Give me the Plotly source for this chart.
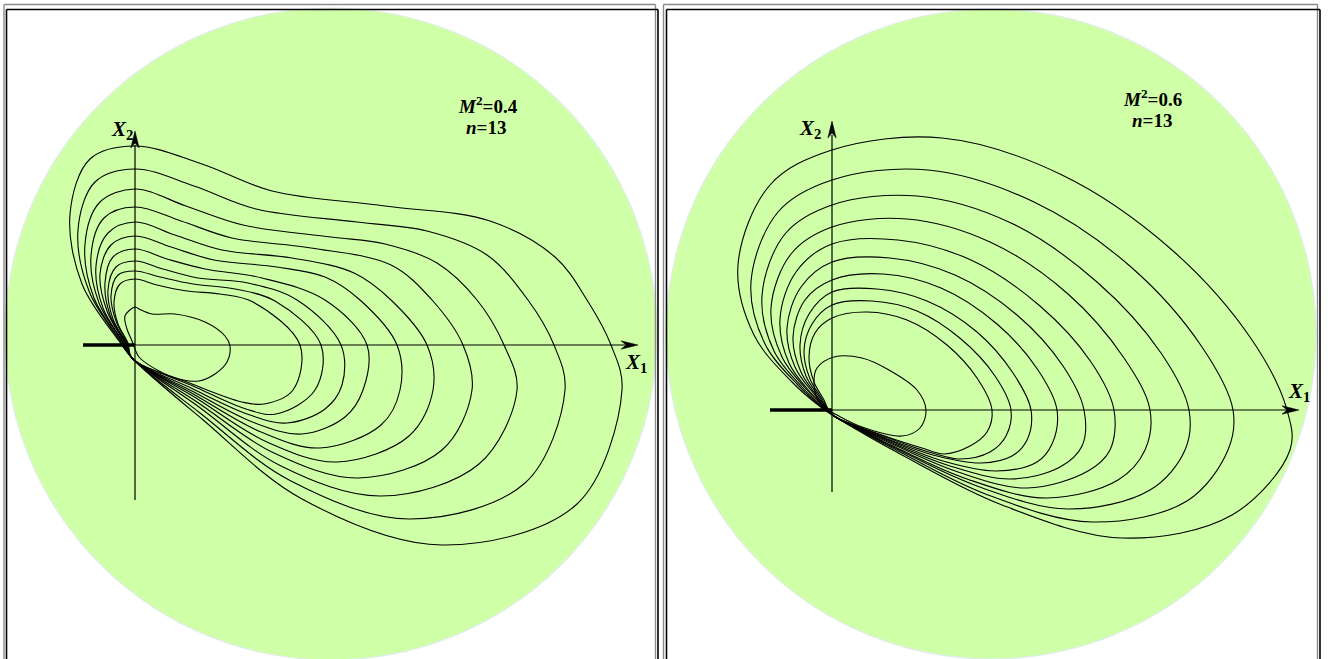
import plotly.graph_objects as go

W, H = 1328, 659

# ---------------- data (X1, X2, one list per curve) -------------
m2_values = [0.4, 0.6]
n_values = [13, 13]

left_x1 = [
    [-3, 67, 167, 307, 442, 487, 476, 452, 420, 355, 250, 137, 67, 0, -45, -65, -53, -16, -3],
    [-3, 65, 156, 274, 390, 430, 419, 393, 352, 292, 222, 121, 59, 0, -40, -57, -46, -15, -3],
    [-3, 64, 146, 246, 344, 382, 369, 342, 302, 250, 196, 108, 51, 0, -35, -50, -41, -14, -3],
    [-3, 62, 139, 223, 307, 337, 328, 297, 256, 176, 97, 46, 0, -31, -44, -36, -13, -3],
    [-3, 61, 132, 202, 274, 298, 292, 256, 219, 157, 87, 40, 0, -27, -39, -32, -12, -3],
    [-3, 60, 126, 185, 246, 265, 262, 225, 190, 142, 79, 36, 0, -24, -35, -28, -11, -3],
    [-3, 59, 120, 167, 210, 228, 232, 190, 127, 70, 32, 0, -22, -30, -25, -10, -3],
    [-3, 58, 115, 152, 190, 207, 206, 162, 113, 63, 28, 0, -19, -27, -22, -9, -3],
    [-3, 58, 111, 141, 180, 186, 140, 100, 58, 25, 0, -17, -24, -19, -8, -3],
    [-3, 57, 107, 129, 158, 165, 118, 85, 52, 22, 0, -15, -21, -17, -7, -3],
    [4, 24, 44, 64, 80, 92, 95, 90, 70, 40, 17, 4, 0, -10, -8, -3, 0, 4],
]
left_x2 = [
    [-13, -74, -154, -200, -159, -45, 0, 45, 88, 124, 139, 154, 181, 199, 186, 131, 61, 4, -13],
    [-13, -68, -136, -174, -138, -45, 0, 45, 90, 114, 123, 136, 159, 176, 163, 115, 54, 4, -13],
    [-13, -62, -121, -151, -119, -45, 0, 45, 82, 101, 108, 120, 139, 156, 143, 101, 47, 4, -13],
    [-13, -57, -108, -133, -105, -45, 0, 45, 80, 97, 107, 124, 138, 127, 89, 42, 4, -13],
    [-13, -53, -97, -117, -91, -45, 0, 45, 72, 87, 95, 110, 123, 112, 79, 37, 3, -13],
    [-13, -50, -87, -103, -80, -45, 0, 45, 68, 78, 85, 98, 109, 100, 71, 34, 3, -13],
    [-13, -47, -78, -89, -72, -45, 0, 45, 67, 76, 86, 96, 88, 62, 30, 3, -13],
    [-13, -44, -70, -78, -64, -40, 0, 45, 62, 67, 76, 84, 78, 55, 26, 2, -13],
    [-13, -41, -64, -69, -45, 0, 44, 56, 61, 68, 74, 70, 49, 24, 2, -13],
    [-13, -39, -57, -59, -45, 0, 43, 51, 54, 60, 66, 61, 43, 21, 2, -13],
    [-12, -26, -34, -36, -29, -17, -1, 9, 23, 31, 31, 36, 38, 29, 16, 4, -4, -12],
]

right_x1 = [
    [2, 70, 170, 290, 400, 458, 455, 420, 340, 230, 110, 0, -62, -94, -78, -40, -10, 2],
    [2, 66, 156, 260, 355, 396, 401, 370, 299, 202, 96, 0, -54, -81, -67, -34, -9, 2],
    [2, 63, 145, 236, 318, 353, 357, 329, 265, 179, 85, 0, -47, -70, -58, -29, -8, 2],
    [2, 61, 135, 215, 286, 313, 318, 292, 236, 158, 75, 0, -41, -61, -50, -25, -7, 2],
    [2, 58, 126, 195, 256, 278, 282, 259, 208, 139, 66, 0, -36, -52, -43, -21, -6, 2],
    [2, 56, 118, 179, 228, 250, 252, 231, 185, 123, 58, 0, -31, -45, -37, -18, -6, 2],
    [2, 54, 111, 164, 205, 220, 225, 206, 165, 109, 51, 0, -27, -39, -31, -15, -5, 2],
    [2, 53, 105, 149, 180, 195, 199, 181, 145, 95, 45, 0, -23, -32, -26, -12, -5, 2],
    [2, 51, 100, 128, 158, 174, 179, 163, 129, 85, 40, 0, -20, -28, -22, -10, -4, 2],
    [2, 50, 90, 112, 138, 155, 160, 145, 115, 75, 35, 0, -17, -23, -18, -8, -4, 2],
    [5, 30, 70, 88, 94, 85, 57, 30, 2, -15, -18, -15, -7, 5],
]
right_x2 = [
    [-6, -45, -95, -128, -105, -40, 0, 70, 160, 235, 272, 260, 225, 145, 75, 28, 2, -6],
    [-6, -41, -85, -112, -91, -40, 0, 63, 143, 208, 240, 230, 198, 128, 66, 25, 2, -6],
    [-6, -38, -76, -99, -80, -40, 0, 57, 128, 187, 214, 205, 176, 114, 59, 22, 2, -6],
    [-6, -36, -69, -88, -70, -40, 0, 52, 116, 168, 191, 183, 156, 102, 53, 20, 2, -6],
    [-6, -33, -62, -78, -61, -40, 0, 48, 104, 150, 170, 166, 138, 91, 47, 17, 2, -6],
    [-6, -31, -56, -69, -57, -36, 0, 44, 95, 135, 152, 148, 123, 82, 43, 16, 2, -6],
    [-6, -29, -51, -61, -52, -34, 0, 40, 86, 122, 136, 130, 110, 73, 38, 14, 2, -6],
    [-6, -28, -46, -53, -46, -30, 0, 37, 78, 109, 121, 118, 96, 65, 34, 12, 1, -6],
    [-6, -26, -43, -49, -42, -26, 0, 34, 71, 99, 109, 105, 86, 59, 31, 11, 1, -6],
    [-6, -25, -38, -44, -36, -22, 0, 32, 65, 90, 98, 92, 77, 53, 28, 10, 1, -6],
    [-5, -17, -26, -18, 0, 20, 40, 52, 53, 42, 30, 12, 2, -5],
]

# ---------------- figure ----------------
fig = go.Figure()

for xs, ys in zip(left_x1, left_x2):
    fig.add_trace(go.Scatter(x=xs, y=ys, mode="lines", xaxis="x", yaxis="y",
                             line=dict(color="black", width=1.1, shape="spline", smoothing=1.0),
                             hoverinfo="skip", showlegend=False))
for xs, ys in zip(right_x1, right_x2):
    fig.add_trace(go.Scatter(x=xs, y=ys, mode="lines", xaxis="x2", yaxis="y2",
                             line=dict(color="black", width=1.1, shape="spline", smoothing=1.0),
                             hoverinfo="skip", showlegend=False))

GREEN = "#cfffa6"
shapes = []
# disks
shapes.append(dict(type="circle", xref="x", yref="y", x0=-130, x1=522, y0=-315, y1=337,
                   fillcolor=GREEN, line=dict(color="#e3ecec", width=1.2), layer="below"))
shapes.append(dict(type="circle", xref="x2", yref="y2", x0=-166, x1=484, y0=-249, y1=401,
                   fillcolor=GREEN, line=dict(color="#e3ecec", width=1.2), layer="below"))

def hline(xr, yr, x0, x1, y, w):
    return dict(type="line", xref=xr, yref=yr, x0=x0, x1=x1, y0=y, y1=y,
                line=dict(color="black", width=w), layer="above")

def vline(xr, yr, x, y0, y1, w):
    return dict(type="line", xref=xr, yref=yr, x0=x, x1=x, y0=y0, y1=y1,
                line=dict(color="black", width=w), layer="above")

def arrow_path(xr, yr, tx, ty, direction):
    L, Wd, notch = 17, 4.2, 12
    if direction == "right":
        p = f"M{tx},{ty} L{tx-L},{ty+Wd} L{tx-notch},{ty} L{tx-L},{ty-Wd} Z"
    else:
        p = f"M{tx},{ty} L{tx-Wd},{ty-L} L{tx},{ty-notch} L{tx+Wd},{ty-L} Z"
    return dict(type="path", xref=xr, yref=yr, path=p, fillcolor="black",
                line=dict(color="black", width=0.5), layer="above")

# left axes
shapes.append(hline("x", "y", -52, 490, 0, 1.2))
shapes.append(hline("x", "y", -52, 0, 0, 3.6))
shapes.append(vline("x", "y", 0, -155, 200, 1.2))
shapes.append(arrow_path("x", "y", 503, 0, "right"))
shapes.append(arrow_path("x", "y", 0, 214, "up"))
# right axes
shapes.append(hline("x2", "y2", -62, 455, 0, 1.2))
shapes.append(hline("x2", "y2", -62, 0, 0, 3.6))
shapes.append(vline("x2", "y2", 0, -82, 275, 1.2))
shapes.append(arrow_path("x2", "y2", 467, 0, "right"))
shapes.append(arrow_path("x2", "y2", 0, 289, "up"))

# panel frames (paper coords from pixels)
def px(x):
    return x / W

def py(y):
    return 1 - y / H

def frame(x0, x1, ytop, color, w):
    out = []
    for seg in [(x0, ytop, x1, ytop), (x0, ytop, x0, H + 5), (x1, ytop, x1, H + 5)]:
        out.append(dict(type="line", xref="paper", yref="paper",
                        x0=px(seg[0]), y0=py(seg[1]), x1=px(seg[2]), y1=py(seg[3]),
                        line=dict(color=color, width=w), layer="above"))
    return out

shapes += frame(4, 655.5, 4.5, "#8a8a8a", 1.4)
shapes += frame(6.5, 658, 9.5, "black", 1.6)
shapes += frame(663.5, 1317.5, 4.5, "#8a8a8a", 1.4)
shapes += frame(666.5, 1320, 9.5, "black", 1.6)

FONT = "Liberation Serif"
ann = []
def label(xr, yr, x, y, text, size):
    ann.append(dict(xref=xr, yref=yr, x=x, y=y, text=text, showarrow=False,
                    font=dict(family=FONT, size=size, color="black"),
                    xanchor="center", yanchor="middle"))

xlab1 = "<b><i>X</i></b><sub><b>1</b></sub>"
xlab2 = "<b><i>X</i></b><sub><b>2</b></sub>"
label("x", "y", -13, 215, xlab2, 21)
label("x", "y", 501, -18, xlab1, 21)
label("x2", "y2", -22, 281, xlab2, 21)
label("x2", "y2", 467, 18, xlab1, 21)

label("x", "y", 353, 240, f"<b><i>M</i><sup>2</sup>={m2_values[0]}</b>", 19)
label("x", "y", 351, 218, f"<b><i>n</i>={n_values[0]}</b>", 19)
label("x2", "y2", 320, 312, f"<b><i>M</i><sup>2</sup>={m2_values[1]}</b>", 19)
label("x2", "y2", 320, 290, f"<b><i>n</i>={n_values[1]}</b>", 19)

ax_common = dict(visible=False, fixedrange=True, showgrid=False, zeroline=False)
fig.update_layout(
    width=W, height=H, autosize=False,
    margin=dict(l=0, r=0, t=0, b=0, pad=0),
    paper_bgcolor="white", plot_bgcolor="white",
    xaxis=dict(domain=[0, 0.5], range=[-135, 529], anchor="y", **ax_common),
    yaxis=dict(domain=[0, 1], range=[-314, 345], anchor="x", **ax_common),
    xaxis2=dict(domain=[0.5, 1], range=[-168, 496], anchor="y2", **ax_common),
    yaxis2=dict(domain=[0, 1], range=[-249, 410], anchor="x2", **ax_common),
    shapes=shapes, annotations=ann, showlegend=False,
)

fig.write_html("out.html", config={"displayModeBar": False, "staticPlot": True},
               post_script="document.body.style.margin='0px';document.body.style.overflow='hidden';")
